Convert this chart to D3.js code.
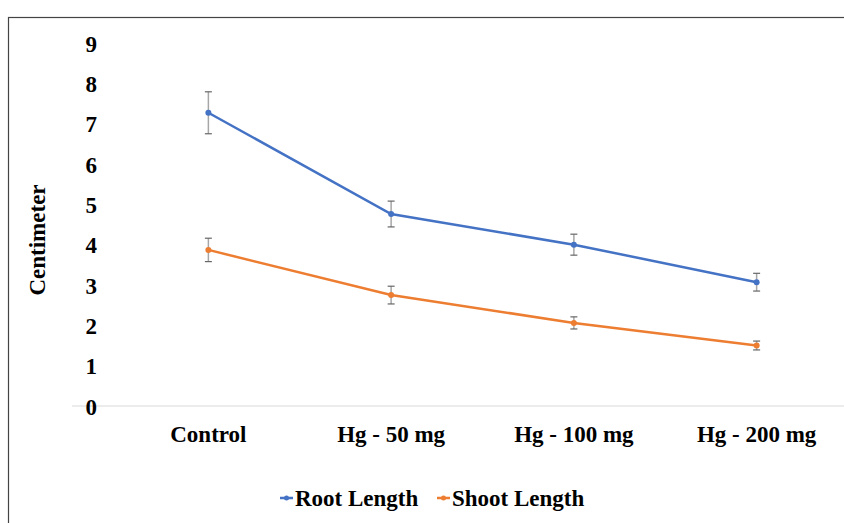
<!DOCTYPE html>
<html>
<head>
<meta charset="utf-8">
<script src="https://cdn.jsdelivr.net/npm/d3@7"></script>
<style>
    html, body { margin: 0; padding: 0; background: #fff; overflow: hidden; }
    svg { display: block; }
    .axis path, .axis line { display: none; }
</style>
</head>
<body>
<script>
const categories = ['Control', 'Hg - 50 mg', 'Hg - 100 mg', 'Hg - 200 mg']
const rootLength = [7.27, 4.76, 4.0, 3.07]
const rootError = [0.52, 0.32, 0.26, 0.22]
const shootLength = [3.87, 2.75, 2.06, 1.5]
const shootError = [0.29, 0.22, 0.15, 0.11]
const yTicks = [0, 1, 2, 3, 4, 5, 6, 7, 8, 9]
const seriesNames = ['Root Length', 'Shoot Length']
const colors = ['#4472C4', '#ED7D31']

const W = 844, H = 523
const FONT = '"Liberation Serif", "Times New Roman", Times, serif'

const svg = d3.select('body').append('svg')
    .attr('width', W)
    .attr('height', H)

// outer frame
svg.append('rect')
    .attr('x', 8.5).attr('y', 17.5)
    .attr('width', W).attr('height', H)
    .attr('fill', 'none')
    .attr('stroke', '#444')
    .attr('stroke-width', 1.2)

const y = d3.scaleLinear().domain([0, 9]).range([406, 43])
const x = d3.scaleBand().domain(categories).range([117, 848])
const cx = c => x(c) + x.bandwidth() / 2

const txt = sel => sel
    .style('font-family', FONT)
    .style('font-weight', 'bold')
    .style('font-size', '23px')
    .attr('fill', '#000')

// baseline
svg.append('line')
    .attr('x1', 72).attr('x2', W)
    .attr('y1', y(0)).attr('y2', y(0))
    .attr('stroke', '#d9d9d9')
    .attr('stroke-width', 1)

// y axis labels
svg.append('g')
    .attr('class', 'axis')
    .attr('transform', 'translate(97,0)')
    .call(d3.axisLeft(y).tickValues(yTicks).tickSize(0).tickPadding(0))
    .selectAll('text')
    .call(txt)
    .attr('dy', '0.35em')

// x axis labels
svg.append('g')
    .attr('class', 'axis')
    .attr('transform', `translate(0, ${y(0)})`)
    .call(d3.axisBottom(x).tickSize(0).tickPadding(20))
    .selectAll('text')
    .call(txt)

svg.append('text')
    .attr('text-anchor', 'middle')
    .attr('transform', 'rotate(-90)')
    .attr('x', -240)
    .attr('y', 45)
    .call(txt)
    .text('Centimeter')

const series = [
    { values: rootLength, errors: rootError },
    { values: shootLength, errors: shootError },
]

const line = d3.line()
    .x(d => cx(d.c))
    .y(d => y(d.v))

series.forEach((s, i) => {
    const data = categories.map((c, k) => ({ c, v: s.values[k], e: s.errors[k] }))
    const g = svg.append('g')

    g.append('path')
        .datum(data)
        .attr('d', line)
        .attr('fill', 'none')
        .attr('stroke', colors[i])
        .attr('stroke-width', 2.5)

    // error bars
    const eb = g.selectAll('.err').data(data).enter().append('g').attr('class', 'err')
    eb.append('line')
        .attr('x1', d => cx(d.c)).attr('x2', d => cx(d.c))
        .attr('y1', d => y(d.v + d.e)).attr('y2', d => y(d.v - d.e))
        .attr('stroke', '#a6a6a6').attr('stroke-width', 1.5)
    eb.selectAll('.cap').data(d => [d.v + d.e, d.v - d.e].map(v => ({ c: d.c, v })))
        .enter().append('line')
        .attr('x1', d => cx(d.c) - 3.5).attr('x2', d => cx(d.c) + 3.5)
        .attr('y1', d => y(d.v)).attr('y2', d => y(d.v))
        .attr('stroke', '#666').attr('stroke-width', 1.2)

    g.selectAll('.dot').data(data).enter().append('circle')
        .attr('cx', d => cx(d.c))
        .attr('cy', d => y(d.v))
        .attr('r', 3)
        .attr('fill', colors[i])
})

// legend
const legendX = [280, 437]
seriesNames.forEach((name, i) => {
    const lg = svg.append('g').attr('transform', `translate(${legendX[i]}, 498)`)
    lg.append('line')
        .attr('x1', 0).attr('x2', 13)
        .attr('stroke', colors[i]).attr('stroke-width', 2.5)
    lg.append('circle').attr('cx', 6.5).attr('r', 2.5).attr('fill', colors[i])
    lg.append('text')
        .attr('x', 15)
        .attr('dy', '0.35em')
        .call(txt)
        .text(name)
})
</script>
</body>
</html>
